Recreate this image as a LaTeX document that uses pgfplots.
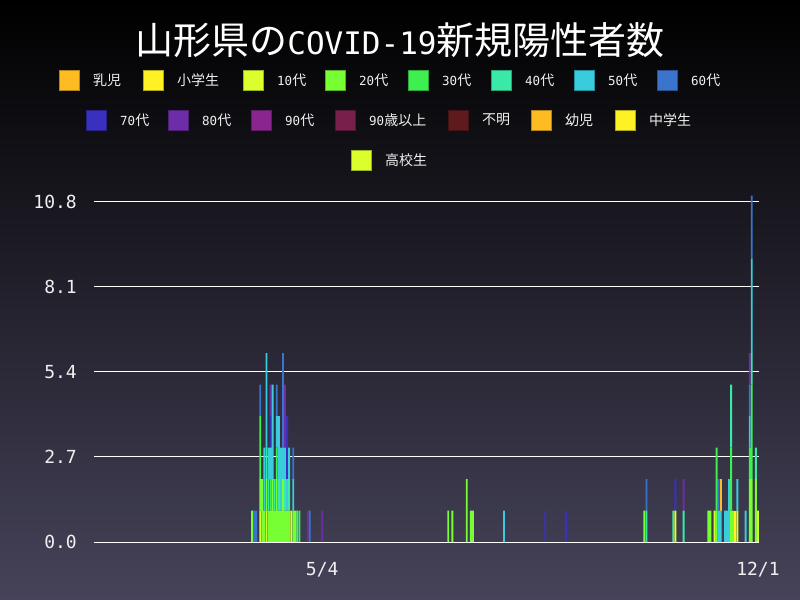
\documentclass[border=0pt]{standalone}
\usepackage{fontspec}
\setmainfont{DejaVu Sans Mono}
\newfontfamily\cjk{Noto Sans CJK JP}
\usepackage{pgfplots}
\usepackage{pgfplotstable}
\pgfplotsset{compat=1.18}

\definecolor{cA}{HTML}{FFBB22}% 乳児
\definecolor{cB}{HTML}{FFF224}% 小学生
\definecolor{cC}{HTML}{DAFF2C}% 10代
\definecolor{cD}{HTML}{77FF33}% 20代
\definecolor{cE}{HTML}{3DF04F}% 30代
\definecolor{cF}{HTML}{3AE8A8}% 40代
\definecolor{cG}{HTML}{38CCDD}% 50代
\definecolor{cH}{HTML}{3A74CC}% 60代
\definecolor{cI}{HTML}{3A30C0}% 70代
\definecolor{cJ}{HTML}{6E2DA8}% 80代
\definecolor{cK}{HTML}{8A2590}% 90代
\definecolor{cL}{HTML}{78204C}% 90歳以上
\definecolor{cM}{HTML}{5E1A1C}% 不明
\definecolor{cN}{HTML}{FFBB22}% 幼児
\definecolor{cO}{HTML}{FFF224}% 中学生
\definecolor{cP}{HTML}{DAFF2C}% 高校生
\definecolor{bgbot}{RGB}{70,67,90}
\definecolor{txt}{HTML}{F0F0F0}

\newcommand{\jp}[1]{{\cjk\fontsize{14bp}{16bp}\selectfont #1}}
\newcommand{\legitem}[4]{%
  \fill[#3, draw=#3!70!black, line width=0.6bp] ({#1bp},{590bp-#2bp}) rectangle ++(20bp,20bp);
  \node[anchor=west, inner sep=0pt, text=txt, font=\fontsize{12.5bp}{14bp}\selectfont]
    at ({#1bp+34bp},{600bp-#2bp}) {#4};
}

% day of year 2020, cases per age group
\pgfplotstableread{
day A B C D E F G H I J K L M N O P
91  0 0 0 1 0 0 0 0 0 0 0 0 0 0 0 0
92  0 0 0 0 0 0 0 1 0 0 0 0 0 0 0 0
93  0 0 0 0 0 0 0 1 0 0 0 0 0 0 0 0
95  0 0 1 1 2 0 0 1 0 0 0 0 0 0 0 0
96  0 0 0 2 0 0 0 0 0 0 0 0 0 0 0 0
97  0 0 0 1 0 0 2 0 0 0 0 0 0 0 0 0
98  0 0 1 1 0 1 3 0 0 0 0 0 0 0 0 0
99  0 0 0 1 0 1 1 0 0 0 0 0 0 0 0 0
100 0 0 0 1 1 0 1 0 1 1 0 0 0 0 0 0
101 0 0 0 2 0 0 3 0 0 0 0 0 0 0 0 0
102 0 0 0 1 0 1 0 0 0 0 0 0 0 0 0 0
103 0 0 0 2 1 0 1 1 0 0 0 0 0 0 0 0
104 0 0 0 1 0 1 2 0 0 0 0 0 0 0 0 0
105 0 0 0 1 0 0 2 0 0 0 0 0 0 0 0 0
106 0 0 0 2 0 0 1 3 0 0 0 0 0 0 0 0
107 0 0 0 1 0 1 1 0 0 2 0 0 0 0 0 0
108 0 0 0 1 0 0 1 0 2 0 0 0 0 0 0 0
109 0 0 0 1 0 1 1 0 0 0 0 0 0 0 0 0
110 0 0 1 0 0 0 0 0 0 0 0 0 0 0 0 0
111 0 0 0 1 0 0 1 1 0 0 0 0 0 0 0 0
112 0 0 0 1 0 0 0 0 0 0 0 0 0 0 0 0
113 0 0 0 0 0 1 0 0 0 0 0 0 0 0 0 0
114 0 0 0 0 1 0 0 0 0 0 0 0 0 0 0 0
118 0 0 0 0 0 0 0 0 0 1 0 0 0 0 0 0
119 0 0 0 0 0 0 0 1 0 0 0 0 0 0 0 0
125 0 0 0 0 0 0 0 0 0 1 0 0 0 0 0 0
186 0 0 0 1 0 0 0 0 0 0 0 0 0 0 0 0
188 0 0 0 1 0 0 0 0 0 0 0 0 0 0 0 0
195 0 0 0 2 0 0 0 0 0 0 0 0 0 0 0 0
197 0 0 0 1 0 0 0 0 0 0 0 0 0 0 0 0
198 0 0 0 1 0 0 0 0 0 0 0 0 0 0 0 0
213 0 0 0 0 0 0 1 0 0 0 0 0 0 0 0 0
233 0 0 0 0 0 0 0 0 1 0 0 0 0 0 0 0
243 0 0 0 0 0 0 0 0 1 0 0 0 0 0 0 0
281 0 0 0 1 0 0 0 0 0 0 0 0 0 0 0 0
282 0 0 0 0 0 1 0 1 0 0 0 0 0 0 0 0
295 0 0 0 0 0 1 0 0 0 0 0 0 0 0 0 0
296 0 0 1 0 0 0 0 0 1 0 0 0 0 0 0 0
300 0 0 0 0 0 1 0 0 0 1 0 0 0 0 0 0
312 0 0 0 1 0 0 0 0 0 0 0 0 0 0 0 0
313 0 0 0 1 0 0 0 0 0 0 0 0 0 0 0 0
315 0 0 1 0 0 0 0 0 0 0 0 0 0 0 0 0
316 0 0 0 1 2 0 0 0 0 0 0 0 0 0 0 0
317 0 0 0 0 0 0 1 1 0 0 0 0 0 0 0 0
318 0 0 0 0 0 0 1 0 0 0 0 0 0 1 0 0
320 0 0 0 0 0 0 1 0 0 0 0 0 0 0 0 0
321 0 0 0 0 0 0 1 0 0 0 0 0 0 0 0 0
322 0 0 0 0 0 0 2 0 0 0 0 0 0 0 0 0
323 0 0 0 1 2 2 0 0 0 0 0 0 0 0 0 0
324 0 0 0 1 0 0 0 0 0 0 0 0 0 0 0 0
325 0 1 0 0 0 0 0 0 0 0 0 0 0 0 0 0
326 0 0 1 0 0 0 1 0 0 0 0 0 0 0 0 0
330 0 0 0 0 0 0 1 0 0 0 0 0 0 0 0 0
332 0 0 0 2 1 0 1 1 0 1 0 0 0 0 0 0
333 0 0 0 2 3 1 3 2 0 0 0 0 0 0 0 0
335 0 0 0 2 0 1 0 0 0 0 0 0 0 0 0 0
336 0 0 1 0 0 0 0 0 0 0 0 0 0 0 0 0
}\cases

\begin{document}
\begin{tikzpicture}
\shade[top color=black, bottom color=bgbot] (0,0) rectangle (800bp,600bp);

\node[text=white, inner sep=0pt] at (400bp,560bp)
  {{\cjk\fontsize{38bp}{44bp}\selectfont 山形県の}{\fontsize{31bp}{36bp}\selectfont COVID-19}{\cjk\fontsize{38bp}{44bp}\selectfont 新規陽性者数}};

\legitem{59}{80}{cA}{\jp{乳児}}
\legitem{143}{80}{cB}{\jp{小学生}}
\legitem{243}{80}{cC}{10\jp{代}}
\legitem{325}{80}{cD}{20\jp{代}}
\legitem{408}{80}{cE}{30\jp{代}}
\legitem{491}{80}{cF}{40\jp{代}}
\legitem{574}{80}{cG}{50\jp{代}}
\legitem{657}{80}{cH}{60\jp{代}}
\legitem{86}{120}{cI}{70\jp{代}}
\legitem{168}{120}{cJ}{80\jp{代}}
\legitem{251}{120}{cK}{90\jp{代}}
\legitem{335}{120}{cL}{90\jp{歳以上}}
\legitem{448}{120}{cM}{\jp{不明}}
\legitem{531}{120}{cN}{\jp{幼児}}
\legitem{615}{120}{cO}{\jp{中学生}}
\legitem{351}{160}{cP}{\jp{高校生}}

\begin{axis}[
  at={(94bp,58bp)}, anchor=south west,
  scale only axis, width=665bp, height=352.6bp,
  xmin=14.5, xmax=336.5, ymin=0, ymax=11.2,
  ybar stacked, bar width=0.9,
  axis line style={draw=none},
  major tick length=0pt,
  ytick={0,2.7,5.4,8.1,10.8},
  xtick={125,336}, xticklabels={5/4,12/1},
  ymajorgrids, grid style={white, line width=1bp},
  /pgf/number format/assume math mode=true,
  y tick label style={/pgf/number format/fixed, /pgf/number format/fixed zerofill, /pgf/number format/precision=1},
  tick label style={font=\fontsize{18bp}{20bp}\selectfont, text=txt, inner sep=0pt},
  yticklabel style={anchor=east, xshift=-17bp},
  xticklabel style={anchor=base, yshift=-33.5bp},
]
\addplot[fill=cA, draw=none] table[x=day, y=A] {\cases};
\addplot[fill=cB, draw=none] table[x=day, y=B] {\cases};
\addplot[fill=cC, draw=none] table[x=day, y=C] {\cases};
\addplot[fill=cD, draw=none] table[x=day, y=D] {\cases};
\addplot[fill=cE, draw=none] table[x=day, y=E] {\cases};
\addplot[fill=cF, draw=none] table[x=day, y=F] {\cases};
\addplot[fill=cG, draw=none] table[x=day, y=G] {\cases};
\addplot[fill=cH, draw=none] table[x=day, y=H] {\cases};
\addplot[fill=cI, draw=none] table[x=day, y=I] {\cases};
\addplot[fill=cJ, draw=none] table[x=day, y=J] {\cases};
\addplot[fill=cK, draw=none] table[x=day, y=K] {\cases};
\addplot[fill=cL, draw=none] table[x=day, y=L] {\cases};
\addplot[fill=cM, draw=none] table[x=day, y=M] {\cases};
\addplot[fill=cN, draw=none] table[x=day, y=N] {\cases};
\addplot[fill=cO, draw=none] table[x=day, y=O] {\cases};
\addplot[fill=cP, draw=none] table[x=day, y=P] {\cases};
\end{axis}

\pgfresetboundingbox
\useasboundingbox (0,0) rectangle (800bp,600bp);
\end{tikzpicture}
\end{document}
